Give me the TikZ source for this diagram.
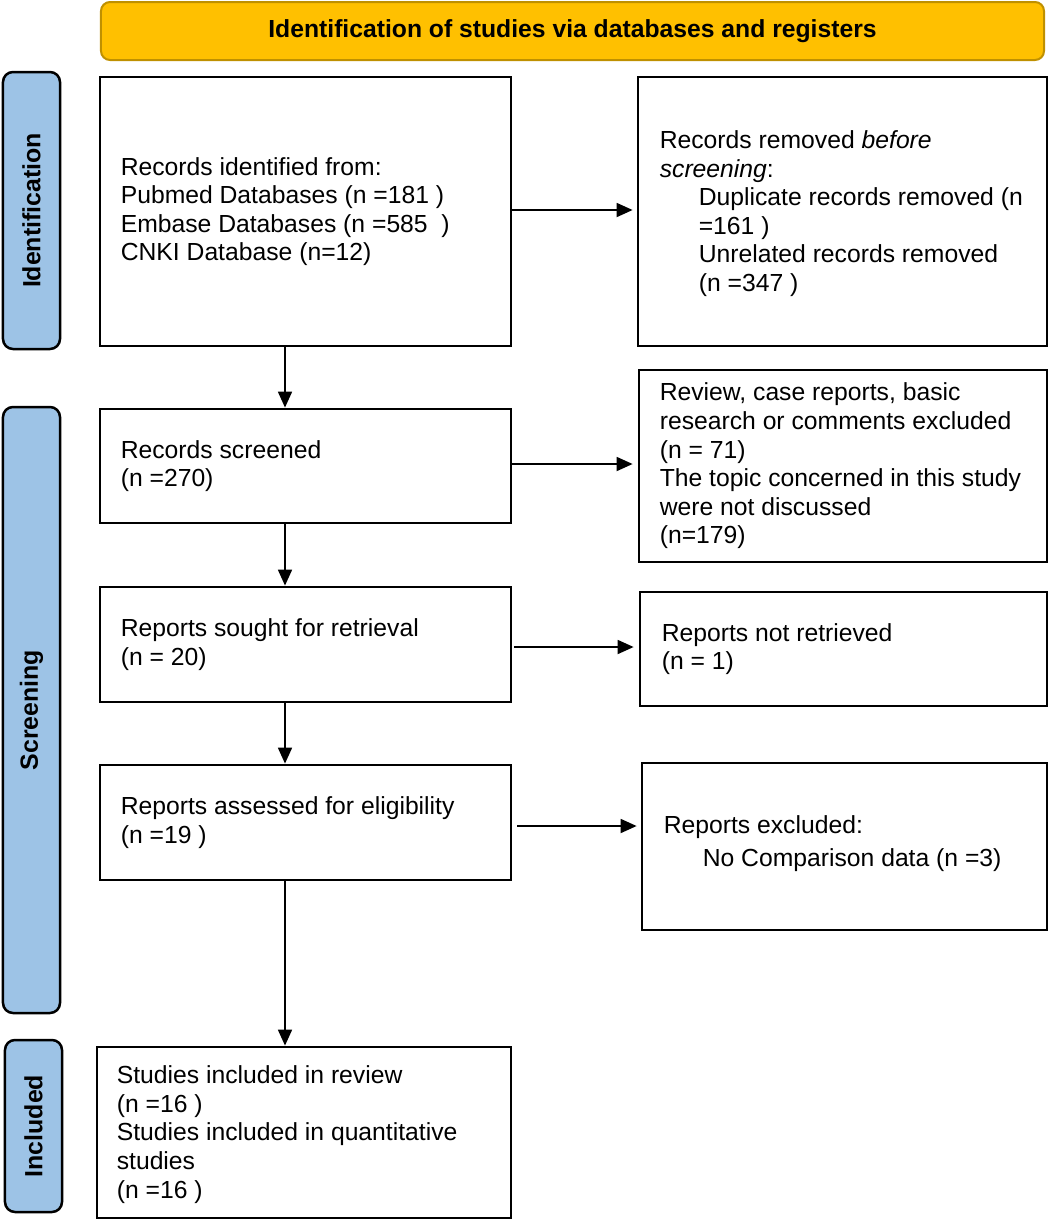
\documentclass[tikz,border=0pt]{standalone}
\usepackage{fontspec}
\setmainfont{Liberation Sans}
\usetikzlibrary{arrows.meta,calc}
\definecolor{bannerfill}{HTML}{FFC000}
\definecolor{bannerline}{HTML}{BF9000}
\definecolor{barfill}{HTML}{9DC3E6}
\begin{document}
\begin{tikzpicture}[x=1bp,y=-1bp,
  banner/.style={draw=bannerline, fill=bannerfill, line width=2bp, rounded corners=9bp,
    minimum width=943bp, minimum height=58bp, inner sep=0pt,
    font=\fontsize{24.8}{28}\selectfont\bfseries},
  sidebar/.style={draw=black, fill=barfill, line width=2.5bp, rounded corners=10bp,
    rotate=90, minimum height=57bp, inner sep=0pt,
    font=\fontsize{25}{28}\selectfont\bfseries},
  flowbox/.style={draw=black, line width=2.8bp, inner sep=0pt, fill=white},
  txt/.style={font=\fontsize{24.8}{28.7}\selectfont, align=left, inner sep=0pt, anchor=west},
  arr/.style={-{Triangle[length=16bp,width=14bp]}, line width=1.8bp}
]
\useasboundingbox (0,0) rectangle (1053,1221);

% banner
\node[banner] (ban) at (572.5,31) {Identification of studies via databases and registers};

% side bars
\node[sidebar, minimum width=277bp] (barid) at (31.5,210.5) {Identification};
\node[sidebar, minimum width=606bp] (barsc) at (31.5,710) {Screening};
\node[sidebar, minimum width=172bp] (barin) at (33.5,1126) {Included};

% boxes
\node[flowbox, minimum width=411bp, minimum height=269bp] (b1) at (305.5,211.5) {};
\node[flowbox, minimum width=409bp, minimum height=269bp] (b2) at (842.5,211.5) {};
\node[flowbox, minimum width=411bp, minimum height=114bp] (b3) at (305.5,466) {};
\node[flowbox, minimum width=408bp, minimum height=192bp] (b4) at (843,466) {};
\node[flowbox, minimum width=411bp, minimum height=115bp] (b5) at (305.5,644.5) {};
\node[flowbox, minimum width=407bp, minimum height=114bp] (b6) at (843.5,649) {};
\node[flowbox, minimum width=411bp, minimum height=115bp] (b7) at (305.5,822.5) {};
\node[flowbox, minimum width=405bp, minimum height=167bp] (b8) at (844.5,846.5) {};
\node[flowbox, minimum width=414bp, minimum height=171bp] (b9) at (304,1132.5) {};

% texts
\node[txt] (t1) at ([xshift=22bp]b1.west) {Records identified from:\\Pubmed Databases (n =181 )\\Embase Databases (n =585\ \ )\\CNKI Database (n=12)};
\node[txt] (t2) at ([xshift=23bp,yshift=-2bp]b2.west) {Records removed \textit{before}\\\textit{screening}:\\\hspace*{39bp}Duplicate records removed (n\\\hspace*{39bp}=161 )\\\hspace*{39bp}Unrelated records removed\\\hspace*{39bp}(n =347 )};
\node[txt] (t3) at ([xshift=22bp]b3.west) {Records screened\\(n =270)};
\node[txt] (t4) at ([xshift=22bp]b4.west) {Review, case reports, basic\\research or comments excluded\\(n = 71)\\The topic concerned in this study\\were not discussed\\(n=179)};
\node[txt] (t5) at ([xshift=22bp]b5.west) {Reports sought for retrieval\\(n = 20)};
\node[txt] (t6) at ([xshift=23bp]b6.west) {Reports not retrieved\\(n = 1)};
\node[txt] (t7) at ([xshift=22bp]b7.west) {Reports assessed for eligibility\\(n =19 )};
\node[txt] (t8) at ([xshift=23bp,yshift=3bp]b8.west) {Reports excluded:\\[5bp]\hspace*{39bp}No Comparison data (n =3)};
\node[txt] (t9) at ([xshift=21bp,yshift=-2bp]b9.west) {Studies included in review\\(n =16 )\\Studies included in quantitative\\studies\\(n =16 )};

% connectors
\coordinate (ax) at (285,0);
\draw[arr] (b1.south -| ax) -- (b3.north -| ax);
\draw[arr] (b3.south -| ax) -- (b5.north -| ax);
\draw[arr] (b5.south -| ax) -- (b7.north -| ax);
\draw[arr] (b7.south -| ax) -- (b9.north -| ax);

\draw[arr, shorten >=4bp] ([yshift=1.5bp]b1.east) -- ([yshift=1.5bp]b1.east -| b2.west);
\draw[arr, shorten >=5bp] ([yshift=2bp]b3.east) -- ([yshift=2bp]b3.east -| b4.west);
\draw[arr, shorten >=5bp, shorten <=2bp] ([yshift=-2.5bp]b5.east) -- ([yshift=-2.5bp]b5.east -| b6.west);
\draw[arr, shorten >=4bp, shorten <=5bp] ([yshift=-3.5bp]b7.east) -- ([yshift=-3.5bp]b7.east -| b8.west);
\end{tikzpicture}
\end{document}
